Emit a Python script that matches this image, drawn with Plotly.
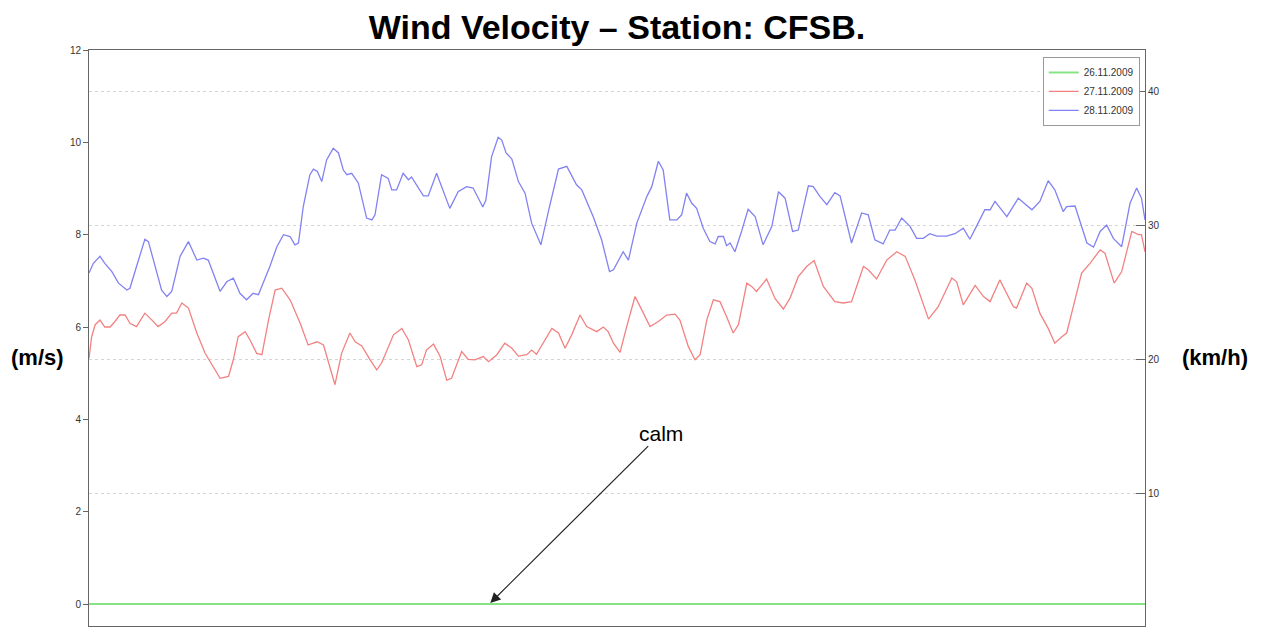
import plotly.graph_objects as go

# time of day (hours) and wind speed (m/s)
t_blue = [0.00, 0.10, 0.25, 0.36, 0.52, 0.67, 0.86, 0.93, 1.08, 1.27, 1.35, 1.50, 1.65, 1.77, 1.88,
          2.07, 2.26, 2.45, 2.60, 2.71, 2.98, 3.13, 3.28, 3.43, 3.58, 3.73, 3.85, 4.11, 4.27, 4.42,
          4.57, 4.68, 4.76, 4.87, 5.02, 5.10, 5.19, 5.29, 5.40, 5.55, 5.67, 5.78, 5.86, 5.97, 6.12,
          6.31, 6.43, 6.50, 6.65, 6.80, 6.88, 6.99, 7.14, 7.26, 7.33, 7.60, 7.71, 7.90, 8.20, 8.39,
          8.58, 8.73, 8.81, 8.95, 9.02, 9.15, 9.30, 9.38, 9.48, 9.61, 9.76, 9.91, 10.06, 10.27, 10.44,
          10.67, 10.86, 11.08, 11.20, 11.46, 11.65, 11.83, 11.92, 12.14, 12.26, 12.45, 12.68, 12.79,
          12.94, 13.05, 13.20, 13.36, 13.47, 13.58, 13.70, 13.81, 13.96, 14.11, 14.23, 14.30, 14.42,
          14.49, 14.57, 14.68, 14.83, 14.98, 15.14, 15.32, 15.52, 15.67, 15.82, 15.99, 16.12, 16.35,
          16.46, 16.61, 16.77, 16.95, 17.07, 17.33, 17.56, 17.71, 17.86, 18.05, 18.20, 18.32, 18.47,
          18.66, 18.81, 18.96, 19.11, 19.27, 19.49, 19.68, 19.87, 20.02, 20.17, 20.36, 20.48, 20.59,
          20.86, 21.12, 21.43, 21.61, 21.80, 21.95, 22.14, 22.22, 22.41, 22.68, 22.83, 22.98, 23.13,
          23.28, 23.47, 23.66, 23.81, 23.92, 24.00]
v_blue = [7.17, 7.38, 7.53, 7.38, 7.20, 6.95, 6.80, 6.84, 7.31, 7.90, 7.85, 7.31, 6.80, 6.66, 6.77,
          7.53, 7.85, 7.45, 7.49, 7.45, 6.77, 6.98, 7.06, 6.73, 6.59, 6.73, 6.70, 7.31, 7.74, 8.00,
          7.96, 7.78, 7.82, 8.61, 9.30, 9.42, 9.37, 9.15, 9.62, 9.87, 9.77, 9.40, 9.30, 9.33, 9.12,
          8.36, 8.32, 8.43, 9.30, 9.22, 8.97, 8.97, 9.33, 9.19, 9.25, 8.84, 8.84, 9.33, 8.57, 8.93,
          9.04, 9.01, 8.86, 8.60, 8.75, 9.69, 10.11, 10.05, 9.77, 9.64, 9.15, 8.90, 8.25, 7.78, 8.50,
          9.42, 9.48, 9.08, 8.97, 8.39, 7.89, 7.20, 7.24, 7.63, 7.45, 8.25, 8.83, 9.04,
          9.59, 9.40, 8.32, 8.32, 8.43, 8.90, 8.68, 8.57, 8.14, 7.85, 7.80, 7.96, 7.96,
          7.76, 7.82, 7.63, 8.07, 8.55, 8.39, 7.78, 8.18, 8.93, 8.79, 8.07, 8.10, 9.06,
          9.04, 8.83, 8.65, 8.91, 8.84, 7.82, 8.47, 8.43, 7.89, 7.80, 8.10, 8.10, 8.36,
          8.18, 7.92, 7.92, 8.02, 7.97, 7.97, 8.02, 8.14, 7.90, 8.18, 8.54, 8.54, 8.72,
          8.39, 8.79, 8.54, 8.72, 9.17, 8.97, 8.50, 8.61, 8.62, 7.82, 7.73, 8.07, 8.21,
          7.92, 7.74, 8.68, 9.01, 8.79, 8.32]

t_red = [0.00, 0.06, 0.14, 0.25, 0.36, 0.48, 0.59, 0.70, 0.82, 0.93, 1.08, 1.27, 1.43, 1.57, 1.73,
         1.88, 1.99, 2.11, 2.26, 2.45, 2.64, 2.79, 2.98, 3.17, 3.28, 3.39, 3.55, 3.66, 3.81, 3.93,
         4.08, 4.23, 4.38, 4.57, 4.80, 4.98, 5.18, 5.33, 5.44, 5.59, 5.74, 5.93, 6.05, 6.20, 6.39,
         6.54, 6.65, 6.77, 6.92, 7.11, 7.26, 7.45, 7.56, 7.67, 7.83, 7.98, 8.13, 8.24, 8.47, 8.62,
         8.77, 8.96, 9.08, 9.27, 9.45, 9.61, 9.76, 9.95, 10.06, 10.17, 10.33, 10.52, 10.67, 10.82,
         10.97, 11.16, 11.31, 11.54, 11.69, 11.80, 11.92, 12.07, 12.22, 12.41, 12.60, 12.75, 12.94,
         13.13, 13.32, 13.43, 13.62, 13.77, 13.89, 14.04, 14.19, 14.34, 14.49, 14.64, 14.76, 14.95,
         15.06, 15.17, 15.40, 15.59, 15.78, 15.93, 16.12, 16.31, 16.48, 16.69, 16.95, 17.14, 17.33,
         17.60, 17.71, 17.90, 18.13, 18.36, 18.55, 18.77, 19.08, 19.30, 19.61, 19.72, 19.87, 20.14,
         20.33, 20.48, 20.70, 21.01, 21.08, 21.31, 21.43, 21.61, 21.80, 21.95, 22.11, 22.22, 22.37,
         22.56, 22.75, 22.98, 23.09, 23.30, 23.47, 23.70, 23.85, 23.92, 24.00]
v_red = [5.32, 5.79, 6.05, 6.15, 6.00, 6.00, 6.12, 6.26, 6.26, 6.08, 6.01, 6.30, 6.15, 6.01, 6.12,
         6.30, 6.30, 6.52, 6.41, 5.87, 5.43, 5.18, 4.89, 4.93, 5.29, 5.79, 5.90, 5.72, 5.43, 5.40,
         6.15, 6.80, 6.84, 6.59, 6.08, 5.61, 5.68, 5.61, 5.25, 4.75, 5.43, 5.87, 5.68, 5.59, 5.29,
         5.07, 5.22, 5.50, 5.83, 5.97, 5.72, 5.14, 5.18, 5.50, 5.63, 5.36, 4.85, 4.89, 5.47, 5.30,
         5.29, 5.36, 5.25, 5.40, 5.65, 5.54, 5.37, 5.40, 5.50, 5.41, 5.68, 5.97, 5.87, 5.54,
         5.83, 6.26, 6.01, 5.90, 6.00, 5.90, 5.65, 5.45, 6.01, 6.66, 6.30, 6.01, 6.12,
         6.26, 6.28, 6.15, 5.58, 5.29, 5.40, 6.15, 6.59, 6.55, 6.23, 5.87, 6.05, 6.95,
         6.88, 6.77, 7.04, 6.62, 6.39, 6.62, 7.09, 7.31, 7.44, 6.88, 6.55, 6.52, 6.55,
         7.31, 7.24, 7.04, 7.45, 7.63, 7.53, 7.02, 6.17, 6.44, 7.06, 6.98, 6.48, 6.90,
         6.66, 6.55, 7.02, 6.44, 6.41, 6.95, 6.84, 6.30, 5.97, 5.65, 5.79, 5.87, 6.44,
         7.17, 7.38, 7.67, 7.60, 6.95, 7.20, 8.07, 8.00, 8.00, 7.63]

t_green = [0.0, 6.0, 12.0, 18.0, 24.0]
v_green = [0.0, 0.0, 0.0, 0.0, 0.0]

series_names = ["26.11.2009", "27.11.2009", "28.11.2009"]
kmh_ticks = [10, 20, 30, 40]
ms_ticks = [0, 2, 4, 6, 8, 10, 12]

FONT = "Liberation Sans, Arial, Helvetica, sans-serif"

fig = go.Figure()
fig.add_trace(go.Scatter(x=t_green, y=v_green, mode="lines", name=series_names[0],
                         line=dict(color="#86e486", width=2)))
fig.add_trace(go.Scatter(x=t_red, y=v_red, mode="lines", name=series_names[1],
                         line=dict(color="#f28282", width=1.3)))
fig.add_trace(go.Scatter(x=t_blue, y=v_blue, mode="lines", name=series_names[2],
                         line=dict(color="#8282f2", width=1.3)))
# invisible trace to carry the km/h axis
fig.add_trace(go.Scatter(x=[0, 24], y=[20, 20], yaxis="y2", mode="lines",
                         line=dict(color="rgba(0,0,0,0)", width=0),
                         showlegend=False, hoverinfo="skip"))

fig.update_layout(
    width=1265, height=627,
    margin=dict(l=89, r=120, t=50, b=1),
    paper_bgcolor="white", plot_bgcolor="white",
    font=dict(family=FONT, size=10, color="#333"),
    title=dict(text="<b>Wind Velocity – Station: CFSB.</b>", x=0.4877, xanchor="center",
               y=0.957, yanchor="middle", font=dict(family=FONT, size=34, color="black")),
    xaxis=dict(range=[0, 24], showticklabels=False, ticks="", showgrid=False, zeroline=False,
               showline=True, linecolor="#666", linewidth=1, mirror=True),
    yaxis=dict(range=[-0.476, 12], tickvals=ms_ticks, ticks="outside", ticklen=5,
               tickcolor="#666", showgrid=False, zeroline=False, showline=True,
               linecolor="#666", linewidth=1, mirror=True,
               tickfont=dict(family=FONT, size=10, color="#333")),
    yaxis2=dict(range=[0.15, 43.13], overlaying="y", side="right", tickvals=kmh_ticks,
                ticks="inside", ticklen=9, tickcolor="#666", showline=True, linecolor="#666",
                showgrid=True, gridcolor="#d4d4d4", griddash="dot", gridwidth=1,
                zeroline=False, tickfont=dict(family=FONT, size=10, color="#333")),
    legend=dict(x=0.995, xanchor="right", y=0.988, yanchor="top",
                bgcolor="white", bordercolor="#999", borderwidth=1,
                font=dict(family=FONT, size=10, color="#333"),
                itemwidth=30, tracegroupgap=0),
    showlegend=True,
)

fig.add_annotation(text="<b>(m/s)</b>", xref="paper", yref="paper", x=-0.049, y=0.467,
                   xanchor="center", yanchor="middle", showarrow=False,
                   font=dict(family=FONT, size=22, color="black"))
fig.add_annotation(text="<b>(km/h)</b>", xref="paper", yref="paper", x=1.066, y=0.467,
                   xanchor="center", yanchor="middle", showarrow=False,
                   font=dict(family=FONT, size=22, color="black"))
fig.add_annotation(text="calm", x=9.12, y=0.02, xref="x", yref="y",
                   showarrow=True, ax=171, ay=-170, arrowhead=2, arrowsize=1.7,
                   arrowwidth=1.2, arrowcolor="#222",
                   font=dict(family=FONT, size=21, color="black"))

fig.write_html("out.html", config={"displayModeBar": False},
               post_script="document.body.style.margin='0';")
